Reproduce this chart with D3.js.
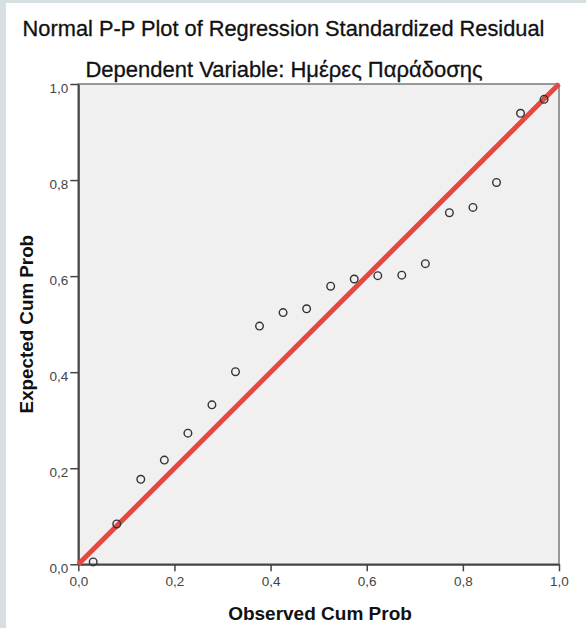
<!DOCTYPE html>
<html>
<head>
<meta charset="utf-8">
<script src="https://cdn.jsdelivr.net/npm/d3@7"></script>
<style>
  body { margin: 0; background: #fff; }
  svg { display: block; }
</style>
</head>
<body>
<script>
const observedCumProb = [0.031, 0.080, 0.130, 0.179, 0.228, 0.278, 0.327, 0.377, 0.426, 0.475,
                         0.525, 0.574, 0.623, 0.673, 0.722, 0.772, 0.821, 0.870, 0.920, 0.969];
const expectedCumProb = [0.005, 0.084, 0.177, 0.217, 0.273, 0.332, 0.401, 0.496, 0.524, 0.532,
                         0.579, 0.594, 0.601, 0.602, 0.626, 0.732, 0.743, 0.795, 0.939, 0.968];
const tickValues = [0, 0.2, 0.4, 0.6, 0.8, 1.0];
const titleText = 'Normal P-P Plot of Regression Standardized Residual';
const subtitleText = 'Dependent Variable: Ημέρες Παράδοσης';
const xTitle = 'Observed Cum Prob';
const yTitle = 'Expected Cum Prob';

const W = 586, H = 628;
const margin = { left: 78.3, right: 27, top: 84, bottom: 63.7 };
const FONT = '"Liberation Sans", Arial, sans-serif';

const svg = d3.select('body').append('svg')
  .attr('width', W)
  .attr('height', H)
  .style('font-family', FONT);

// faixas cinza-azuladas do fundo
svg.append('rect').attr('x', 0).attr('y', 0).attr('width', W).attr('height', 3).attr('fill', '#d6e0e3');
svg.append('rect').attr('x', 0).attr('y', 0).attr('width', 6).attr('height', H).attr('fill', '#d6e0e3');

const x = d3.scaleLinear().domain([0, 1]).range([margin.left, W - margin.right]);
const y = d3.scaleLinear().domain([0, 1]).range([H - margin.bottom, margin.top]);

const fmt = d => d3.format('.1f')(d).replace('.', ',');

// área do gráfico
svg.append('rect')
  .attr('x', x(0)).attr('y', y(1))
  .attr('width', x(1) - x(0)).attr('height', y(0) - y(1))
  .attr('fill', '#f0f0f0')
  .attr('stroke', '#7a7a7a')
  .attr('stroke-width', 1.5);

// eixos
const xAxis = svg.append('g')
  .attr('transform', `translate(0,${y(0)})`)
  .call(d3.axisBottom(x).tickValues(tickValues).tickFormat(fmt).tickSize(7).tickSizeOuter(0));
const yAxis = svg.append('g')
  .attr('transform', `translate(${x(0)},0)`)
  .call(d3.axisLeft(y).tickValues(tickValues).tickFormat(fmt).tickSize(8).tickSizeOuter(0));

[xAxis, yAxis].forEach(function(g) {
  g.select('.domain').attr('stroke', '#444').attr('stroke-width', 2);
  g.selectAll('.tick line').attr('stroke', '#444').attr('stroke-width', 1.5);
  g.selectAll('.tick text')
    .attr('fill', '#444')
    .style('font-size', '13.5px')
    .style('font-family', FONT);
});
xAxis.selectAll('.tick text').attr('y', 12).attr('dy', '0.71em');
yAxis.selectAll('.tick text').attr('x', -10).attr('dy', '0.62em');

// linha de referência
svg.append('line')
  .attr('x1', x(0)).attr('y1', y(0))
  .attr('x2', x(1)).attr('y2', y(1))
  .attr('stroke', '#e8473f')
  .attr('stroke-width', 5);

// pontos
const points = observedCumProb.map((d, i) => ({ obs: d, exp: expectedCumProb[i] }));
svg.append('g').selectAll('circle')
  .data(points)
  .enter().append('circle')
  .attr('cx', d => x(d.obs))
  .attr('cy', d => y(d.exp))
  .attr('r', 3.8)
  .attr('fill', 'none')
  .attr('stroke', '#333')
  .attr('stroke-width', 1.4);

// títulos
svg.append('text')
  .attr('x', 283.5).attr('y', 36)
  .attr('text-anchor', 'middle')
  .style('font-size', '21.8px')
  .attr('fill', '#111')
  .attr('stroke', '#111').attr('stroke-width', 0.3)
  .text(titleText);
svg.append('text')
  .attr('x', 284).attr('y', 77)
  .attr('text-anchor', 'middle')
  .style('font-size', '22px')
  .attr('fill', '#111')
  .attr('stroke', '#111').attr('stroke-width', 0.3)
  .text(subtitleText);

svg.append('text')
  .attr('x', 320).attr('y', 620)
  .attr('text-anchor', 'middle')
  .style('font-size', '19px')
  .style('font-weight', 'bold')
  .attr('fill', '#111')
  .text(xTitle);
svg.append('text')
  .attr('transform', `translate(33,${(y(0) + y(1)) / 2}) rotate(-90)`)
  .attr('text-anchor', 'middle')
  .style('font-size', '18.8px')
  .style('font-weight', 'bold')
  .attr('fill', '#111')
  .text(yTitle);
</script>
</body>
</html>
